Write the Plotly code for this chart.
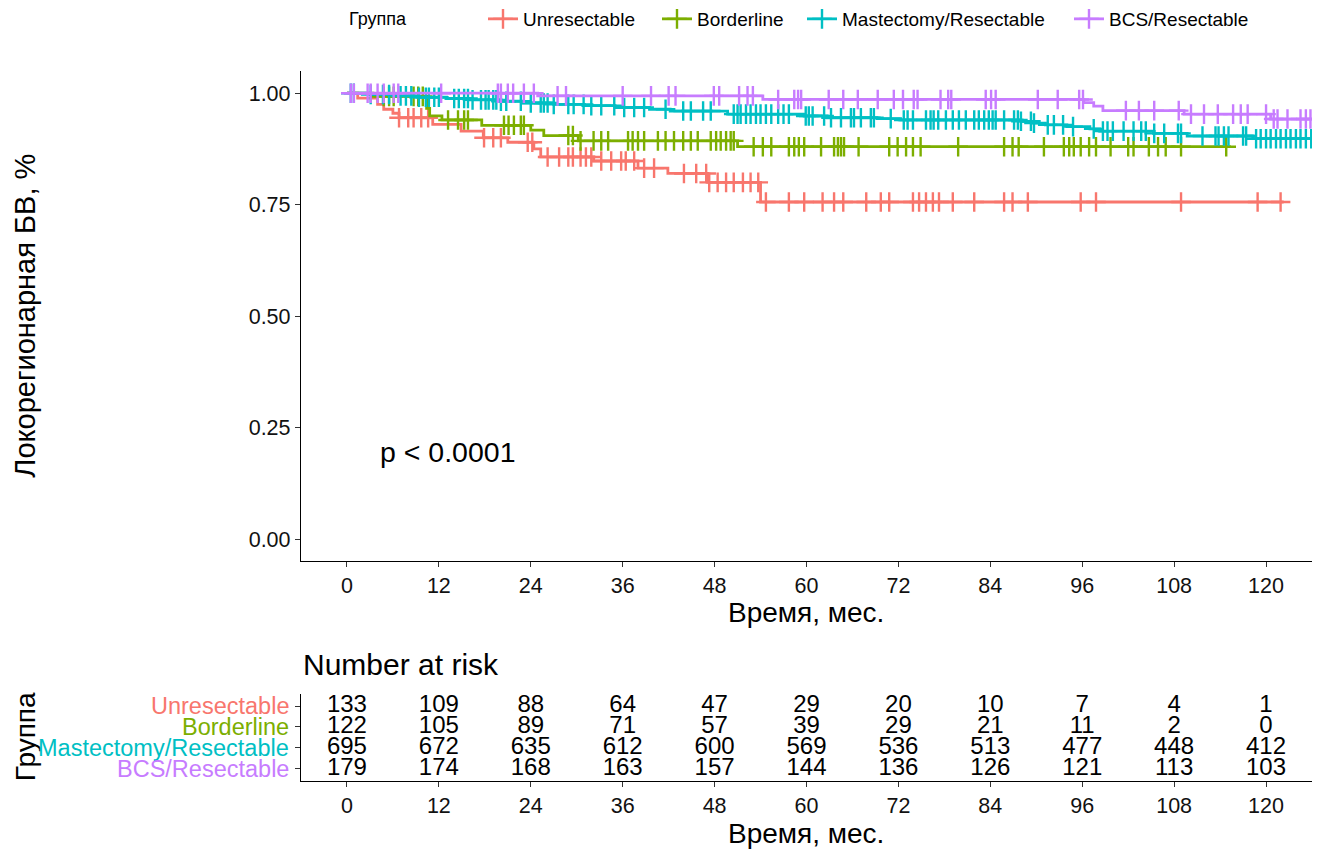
import numpy as np
import plotly.graph_objects as go

# ---- Kaplan-Meier step data (months, survival probability) ----
groups = ["Unresectable", "Borderline", "Mastectomy/Resectable", "BCS/Resectable"]
colors = ["#F8766D", "#7CAE00", "#00BFC4", "#C77CFF"]

unres_t = [0, 1.4, 4.0, 4.8, 6.0, 6.8, 11.2, 14.9, 17.8, 21.0, 24.4, 25.3, 32.2, 38.0, 41.9, 47.1, 54.0]
unres_s = [1.0, 0.989, 0.975, 0.964, 0.955, 0.945, 0.93, 0.915, 0.90, 0.89, 0.875, 0.857, 0.848, 0.832, 0.82, 0.80, 0.756]
unres_end = 122.3
unres_cens = [6.8, 8.0, 8.7, 9.7, 10.6, 17.9, 19.1, 20.1, 23.6, 24.2, 26.2, 27.7, 28.9, 29.5, 30.5,
              31.2, 31.9, 33.2, 34.5, 35.8, 36.4, 37.5, 38.8, 40.1, 44.0, 45.6, 46.9, 47.3, 48.4,
              49.5, 50.5, 51.7, 52.7, 53.7, 54.7, 57.7, 59.7, 62.1, 63.6, 64.8, 67.8, 69.7, 70.8,
              73.9, 74.7, 75.6, 76.5, 77.3, 79.1, 81.9, 85.8, 86.9, 88.9, 95.8, 97.8, 108.9,
              118.9, 121.9]

border_t = [0, 3.4, 10.4, 10.8, 12.4, 17.6, 24.0, 25.7, 30.2, 51.0]
border_s = [1.0, 0.993, 0.966, 0.949, 0.94, 0.928, 0.917, 0.905, 0.893, 0.88]
border_end = 115.4
border_cens = [4.8, 5.5, 6.1, 8.7, 9.3, 9.9, 13.2, 14.5, 15.3, 15.8, 20.5, 21.1, 21.8, 22.7, 23.1,
               28.9, 29.5, 30.5, 32.2, 33.2, 34.1, 36.7, 37.3, 38.0, 38.8, 40.6, 41.6, 42.7, 43.9,
               44.9, 45.8, 47.5, 48.2, 48.8, 49.5, 50.1, 50.5, 53.1, 54.3, 55.4, 57.7, 58.4, 59.0,
               59.7, 61.9, 63.6, 64.1, 64.5, 64.9, 66.8, 70.8, 71.9, 73.0, 73.9, 74.9, 79.8, 85.8,
               86.9, 87.7, 91.0, 93.6, 94.3, 94.9, 95.8, 96.9, 97.8, 99.7, 102.0, 102.7, 104.7,
               105.9, 106.9, 108.9, 114.8]

mast_t = [0, 3.0, 6.0, 9.0, 13.0, 16.0, 20.0, 23.0, 27.0, 31.0, 35.0, 39.5, 42.2, 49.7, 59.7,
          62.7, 69.2, 72.3, 88.0, 89.6, 91.2, 94.0, 97.0, 98.3, 105.3, 109.7, 118.3]
mast_s = [1.0, 0.997, 0.994, 0.991, 0.988, 0.985, 0.982, 0.978, 0.975, 0.972, 0.968, 0.964, 0.96,
          0.953, 0.949, 0.945, 0.943, 0.94, 0.937, 0.933, 0.929, 0.925, 0.92, 0.915, 0.91, 0.904,
          0.898]
mast_end = 130.0
mast_cens = [0.5, 0.9, 3.1, 4.7, 5.5, 7.0, 7.7, 8.4, 9.4, 10.3, 10.7, 11.4, 12.0, 14.0, 14.6, 15.3,
             15.8, 16.4, 17.5, 18.1, 18.5, 19.1, 19.5, 20.1, 20.8, 22.7, 24.0, 25.3, 25.7, 26.2,
             27.0, 28.9, 29.6, 30.9, 31.9, 33.2, 34.9, 36.2, 37.5, 38.8, 41.6, 43.9, 44.9, 46.5,
             47.5, 50.5, 51.0, 51.4, 52.1, 52.7, 53.4, 54.0, 54.7, 55.4, 56.3, 57.0, 57.7, 59.9,
             60.3, 60.8, 62.3, 63.2, 64.5, 65.8, 66.2, 67.1, 68.4, 68.8, 71.0, 72.7, 73.2, 73.9,
             75.6, 76.2, 76.6, 77.2, 78.2, 79.1, 79.9, 80.8, 81.9, 82.5, 83.2, 83.8, 84.3, 84.7,
             85.8, 87.1, 87.6, 88.0, 89.3, 89.7, 91.5, 92.3, 93.5, 94.8, 97.5, 98.7, 99.3, 100.0,
             101.4, 102.7, 103.7, 104.3, 105.4, 106.7, 108.5, 108.9, 111.7, 113.4, 113.8, 114.5,
             115.1, 117.0, 117.4, 118.7, 119.3, 120.0, 120.6, 121.3, 121.9, 122.6, 123.2, 123.9,
             124.5, 125.2, 125.9]

bcs_t = [0, 24.9, 54.3, 96.2, 97.5, 98.7, 109.3, 120.6]
bcs_s = [1.0, 0.994, 0.986, 0.979, 0.971, 0.961, 0.953, 0.942]
bcs_end = 130.0
bcs_cens = [0.5, 0.9, 2.7, 3.1, 4.0, 4.8, 6.1, 6.7, 12.3, 19.7, 20.1, 21.0, 21.7, 23.1, 24.4, 27.5,
            28.6, 36.0, 39.7, 42.0, 42.9, 47.9, 48.6, 51.2, 52.3, 53.0, 56.3, 58.4, 58.9, 59.3,
            62.9, 64.8, 66.7, 69.3, 71.4, 72.6, 74.0, 74.5, 77.5, 78.5, 78.9, 83.4, 84.1, 84.7,
            90.2, 92.8, 95.6, 96.1, 101.7, 103.4, 105.4, 108.6, 110.2, 111.9, 113.7, 115.7,
            116.7, 117.6, 120.0, 121.0, 121.5, 122.8, 124.5, 125.2, 125.8]

# ---- Number at risk table ----
risk_times = [0, 12, 24, 36, 48, 60, 72, 84, 96, 108, 120]
risk_unres = [133, 109, 88, 64, 47, 29, 20, 10, 7, 4, 1]
risk_border = [122, 105, 89, 71, 57, 39, 29, 21, 11, 2, 0]
risk_mast = [695, 672, 635, 612, 600, 569, 536, 513, 477, 448, 412]
risk_bcs = [179, 174, 168, 163, 157, 144, 136, 126, 121, 113, 103]

y_ticks = [0, 0.25, 0.5, 0.75, 1.0]
y_ticktext = ["0.00", "0.25", "0.50", "0.75", "1.00"]
x_ticks = list(range(0, 121, 12))

curves = [
    (unres_t, unres_s, unres_end, unres_cens, risk_unres),
    (border_t, border_s, border_end, border_cens, risk_border),
    (mast_t, mast_s, mast_end, mast_cens, risk_mast),
    (bcs_t, bcs_s, bcs_end, bcs_cens, risk_bcs),
]

W, H = 1319, 852
FONT = "Liberation Sans, Arial, sans-serif"
LEGEND_TEXT_X = [527, 701, 846, 1113]   # left edge of each legend label (px)


def px_x(p):
    return p / W


def px_y(p):
    return 1 - p / H


fig = go.Figure()

legend_ids = ["legend", "legend2", "legend3", "legend4"]
for name, color, lid, (t, s, end, cens, _) in zip(groups, colors, legend_ids, curves):
    xs = list(t) + [end]
    ys = list(s) + [s[-1]]
    fig.add_trace(go.Scatter(
        x=xs, y=ys, mode="lines", line=dict(color=color, width=2.8, shape="hv"),
        showlegend=False, hoverinfo="skip", xaxis="x", yaxis="y"))
    idx = np.searchsorted(np.array(t), np.array(cens), side="right") - 1
    cy = np.array(s)[idx]
    fig.add_trace(go.Scatter(
        x=cens, y=cy, mode="markers",
        marker=dict(symbol="cross-thin", size=14, line=dict(color=color, width=2.4)),
        showlegend=False, hoverinfo="skip", xaxis="x", yaxis="y"))
    # legend entry: line with a cross
    fig.add_trace(go.Scatter(
        x=[None], y=[None], mode="lines+markers", name=name, legend=lid,
        line=dict(color=color, width=2.8),
        marker=dict(symbol="cross-thin", size=14, line=dict(color=color, width=2.4)),
        xaxis="x", yaxis="y"))

# risk table numbers
for row, (name, (_, _, _, _, risk)) in enumerate(zip(groups, curves), start=1):
    fig.add_trace(go.Scatter(
        x=risk_times, y=[row] * len(risk_times), mode="text",
        text=[str(v) for v in risk], textposition="middle center",
        textfont=dict(family=FONT, size=24, color="black"),
        showlegend=False, hoverinfo="skip", xaxis="x2", yaxis="y2"))

axis_common = dict(
    showline=True, linecolor="black", linewidth=1.3, ticks="outside", ticklen=5,
    tickwidth=1.3, tickcolor="#333333", showgrid=False, zeroline=False,
    tickfont=dict(family=FONT, size=21.5, color="#111111"),
)

x_dom = [px_x(301), px_x(1312)]

layout_legends = {}
for lid, tx in zip(legend_ids, LEGEND_TEXT_X):
    layout_legends[lid] = dict(
        orientation="h", x=px_x(tx - 44), y=px_y(-1), xanchor="left", yanchor="top",
        font=dict(family=FONT, size=19, color="black"), bgcolor="rgba(0,0,0,0)",
        itemwidth=30,
    )

fig.update_layout(
    width=W, height=H,
    margin=dict(l=0, r=0, t=0, b=0),
    paper_bgcolor="white", plot_bgcolor="white",
    font=dict(family=FONT, color="black"),
    xaxis=dict(domain=x_dom, anchor="y", range=[-6, 126], tickvals=x_ticks, **axis_common),
    yaxis=dict(domain=[px_y(561), px_y(70)], anchor="x", range=[-0.05, 1.05],
               tickvals=y_ticks, ticktext=y_ticktext, **axis_common),
    xaxis2=dict(domain=x_dom, anchor="y2", range=[-6, 126], tickvals=x_ticks, **axis_common),
    yaxis2=dict(domain=[px_y(781), px_y(693.5)], anchor="x2", range=[4.6, 0.4],
                tickvals=[1, 2, 3, 4], ticktext=["", "", "", ""], **axis_common),
    **layout_legends,
)


def note(text, x, y, size, color="black", angle=0, xanchor="center", xref="paper", yref="paper"):
    return dict(text=text, x=x, y=y, xref=xref, yref=yref, textangle=angle,
                xanchor=xanchor, yanchor="middle", showarrow=False,
                font=dict(family=FONT, size=size, color=color))


annotations = [
    note("Группа", px_x(347), px_y(18), 18, xanchor="left"),
    note("Локорегионарная БВ, %", px_x(25), px_y(315), 29, angle=-90),
    note("Время, мес.", px_x(806), px_y(612), 28),
    note("Время, мес.", px_x(806), px_y(833), 28),
    note("Number at risk", px_x(301), px_y(664), 30, xanchor="left"),
    note("Группа", px_x(25), px_y(737), 28, angle=-90),
    note("p < 0.0001", 4.0, 0.195, 28.5, xanchor="left", xref="x", yref="y"),
]
for row, (name, color) in enumerate(zip(groups, colors), start=1):
    annotations.append(note(name, px_x(291), row, 23.5, color=color, xanchor="right", yref="y2"))
fig.update_layout(annotations=annotations)

fig.write_html("out.html")
